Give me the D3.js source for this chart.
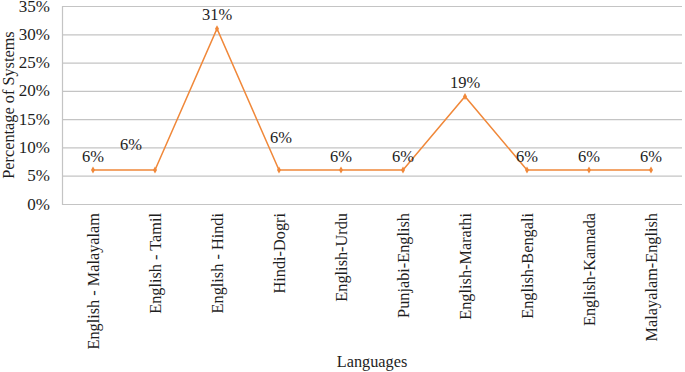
<!DOCTYPE html>
<html>
<head>
<meta charset="utf-8">
<script src="https://cdn.jsdelivr.net/npm/d3@7"></script>
<style>
  body { margin: 0; background: #fff; }
</style>
</head>
<body>
<div id="chart"></div>
<script>
const languages = ["English - Malayalam", "English - Tamil", "English - Hindi", "Hindi-Dogri", "English-Urdu",
  "Punjabi-English", "English-Marathi", "English-Bengali", "English-Kannada", "Malayalam-English"];
const share = [6, 6, 31, 6, 6, 6, 19, 6, 6, 6];
const yTicks = [0, 5, 10, 15, 20, 25, 30, 35];

// label placement tweaks (dx, dy from point to baseline), as in the original
const labelNudge = [[0, -8], [-24, -20], [0, -9], [2, -27], [0, -8], [0, -8], [0, -9], [0, -8], [0, -8], [0, -8]];

const width = 685, height = 372;
const margin = { top: 6, right: 3, bottom: 168, left: 62 };

const svg = d3.select("#chart").append("svg")
  .attr("width", width)
  .attr("height", height)
  .attr("font-family", "'Liberation Serif', 'Times New Roman', serif")
  .attr("fill", "#1e1e1e");

const x = d3.scaleBand().domain(languages).range([margin.left, width - margin.right]);
const y = d3.scaleLinear().domain([0, 35]).range([height - margin.bottom, margin.top]);

// grid
svg.append("g")
  .selectAll("line")
  .data(yTicks)
  .enter().append("line")
  .attr("x1", margin.left).attr("x2", width - margin.right)
  .attr("y1", d => y(d) + 0.5).attr("y2", d => y(d) + 0.5)
  .attr("stroke", "#c4c4c4")
  .attr("stroke-width", 1.2);

// left axis line
svg.append("line")
  .attr("x1", margin.left + 0.5).attr("x2", margin.left + 0.5)
  .attr("y1", y(35)).attr("y2", y(0) + 1)
  .attr("stroke", "#c4c4c4")
  .attr("stroke-width", 1.2);

// y tick labels
svg.append("g")
  .selectAll("text")
  .data(yTicks)
  .enter().append("text")
  .attr("x", 50)
  .attr("y", d => y(d))
  .attr("dy", "0.33em")
  .attr("text-anchor", "end")
  .attr("font-size", 17)
  .text(d => d + "%");

// category labels
svg.append("g")
  .selectAll("text")
  .data(languages)
  .enter().append("text")
  .attr("transform", d => `translate(${x(d) + x.bandwidth() / 2 + 5.5},${y(0) + 9}) rotate(-90)`)
  .attr("text-anchor", "end")
  .attr("font-size", 16.3)
  .text(d => d);

const cx = (d, i) => x(languages[i]) + x.bandwidth() / 2;

// line
const line = d3.line()
  .x((d, i) => cx(d, i))
  .y(d => y(d));

svg.append("path")
  .datum(share)
  .attr("d", line)
  .attr("fill", "none")
  .attr("stroke", "#f0883a")
  .attr("stroke-width", 1.5);

// markers
svg.append("g")
  .selectAll("path")
  .data(share)
  .enter().append("path")
  .attr("d", d3.symbol().type(d3.symbolDiamond).size(14))
  .attr("transform", (d, i) => `translate(${cx(d, i)},${y(d)})`)
  .attr("fill", "#f0883a");

// data labels
svg.append("g")
  .selectAll("text")
  .data(share)
  .enter().append("text")
  .attr("x", (d, i) => cx(d, i) + labelNudge[i][0])
  .attr("y", (d, i) => y(d) + labelNudge[i][1])
  .attr("text-anchor", "middle")
  .attr("font-size", 16.5)
  .text(d => d + "%");

// axis titles
svg.append("text")
  .attr("transform", `translate(14,105) rotate(-90)`)
  .attr("text-anchor", "middle")
  .attr("font-size", 16.3)
  .text("Percentage of Systems");

svg.append("text")
  .attr("x", 372)
  .attr("y", 367)
  .attr("text-anchor", "middle")
  .attr("font-size", 16.3)
  .text("Languages");
</script>
</body>
</html>
